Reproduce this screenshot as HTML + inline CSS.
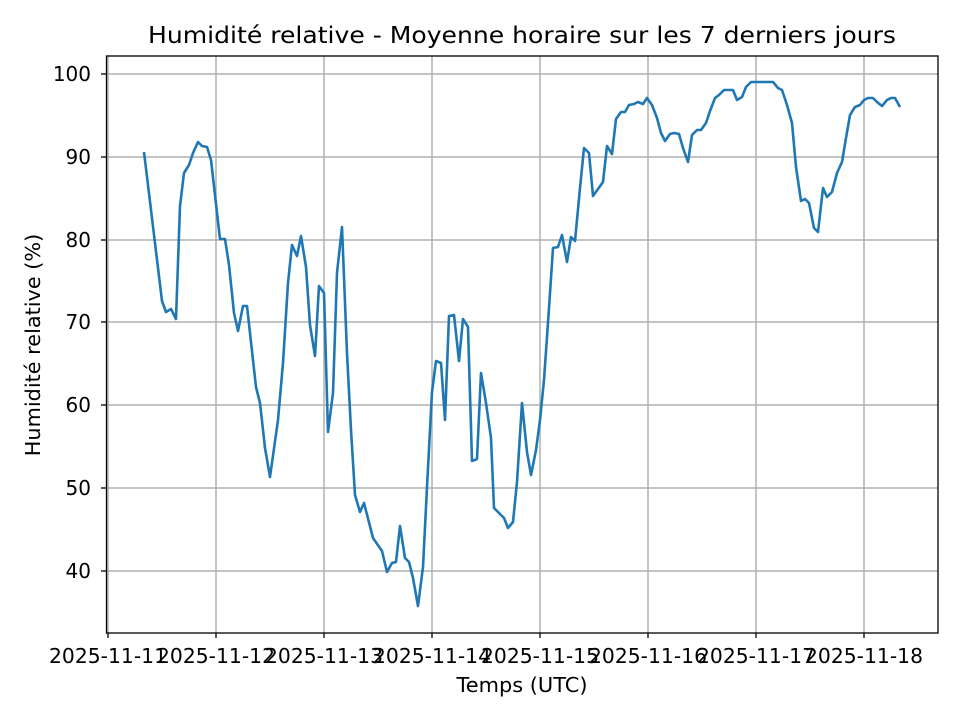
<!DOCTYPE html>
<html><head><meta charset="utf-8"><style>html,body{margin:0;padding:0;background:#fff}svg{display:block}text{font-family:"DejaVu Sans","Liberation Sans",sans-serif;fill:#000}</style></head>
<body>
<svg width="960" height="720" viewBox="0 0 960 720" xmlns="http://www.w3.org/2000/svg">
<rect width="960" height="720" fill="#fff"/>
<g stroke="#b0b0b0" stroke-width="1.5">
<line x1="108" y1="56" x2="108" y2="633"/><line x1="216" y1="56" x2="216" y2="633"/><line x1="324" y1="56" x2="324" y2="633"/><line x1="432" y1="56" x2="432" y2="633"/><line x1="540" y1="56" x2="540" y2="633"/><line x1="648" y1="56" x2="648" y2="633"/><line x1="756" y1="56" x2="756" y2="633"/><line x1="864" y1="56" x2="864" y2="633"/>
<line x1="107" y1="74" x2="938" y2="74"/><line x1="107" y1="157" x2="938" y2="157"/><line x1="107" y1="240" x2="938" y2="240"/><line x1="107" y1="322" x2="938" y2="322"/><line x1="107" y1="405" x2="938" y2="405"/><line x1="107" y1="488" x2="938" y2="488"/><line x1="107" y1="571" x2="938" y2="571"/>
</g>
<polyline fill="none" stroke="#1f77b4" stroke-width="2.6" stroke-linejoin="round" points="144,152 162,301 166,312 171,309 176,319 180,206 184,173 189,165 193,153 198,142 202,146 207,147 211,160 220,239 225,239 229,265 234,313 238,331 243,306 247,306 256,387 260,403 265,448 270,477 278,420 283,363 288,283 292,245 297,256 301,236 306,267 310,325 315,356 319,286 324,293 328,432 333,393 337,273 342,227 347,353 351,430 355,495 360,512 364,503 373,538 382,551 387,572 392,563 396,562 400,526 405,558 409,562 413,578 418,606 423,567 427,487 432,392 436,361 441,363 445,420 449,316 454,315 459,361 463,319 468,327 472,461 477,459 481,373 486,403 491,438 494,508 499,513 504,518 508,528 513,522 517,482 522,403 527,452 531,475 536,450 540,420 544,380 549,308 553,248 558,247 562,235 567,262 571,237 575,241 580,188 584,148 589,153 593,196 598,189 603,182 607,146 612,154 616,119 621,112 625,112 629,105 634,104 638,102 643,104 647,98 652,105 657,118 661,133 665,141 670,134 674,133 679,134 683,148 688,162 692,135 697,130 701,130 706,123 710,111 715,98 719,95 724,90 733,90 737,100 742,97 746,87 751,82 773,82 778,88 782,90 787,105 792,123 796,167 801,201 805,199 809,203 814,228 818,232 823,188 827,197 832,192 837,173 842,162 846,138 850,115 855,107 860,105 864,100 868,98 873,98 877,102 882,106 887,100 891,98 895,98 900,107"/>
<rect x="106.5" y="56" width="831.5" height="577" fill="none" stroke="#000" stroke-width="1.3"/>
<g stroke="#000" stroke-width="1.3">
<line x1="108" y1="633" x2="108" y2="638"/><line x1="216" y1="633" x2="216" y2="638"/><line x1="324" y1="633" x2="324" y2="638"/><line x1="432" y1="633" x2="432" y2="638"/><line x1="540" y1="633" x2="540" y2="638"/><line x1="648" y1="633" x2="648" y2="638"/><line x1="756" y1="633" x2="756" y2="638"/><line x1="864" y1="633" x2="864" y2="638"/>
<line x1="101" y1="74" x2="106" y2="74"/><line x1="101" y1="157" x2="106" y2="157"/><line x1="101" y1="240" x2="106" y2="240"/><line x1="101" y1="322" x2="106" y2="322"/><line x1="101" y1="405" x2="106" y2="405"/><line x1="101" y1="488" x2="106" y2="488"/><line x1="101" y1="571" x2="106" y2="571"/>
</g>
<g font-size="20" text-anchor="end">
<text x="91" y="81">100</text><text x="91" y="164">90</text><text x="91" y="247">80</text><text x="91" y="329">70</text><text x="91" y="412">60</text><text x="91" y="495">50</text><text x="91" y="578">40</text>
</g>
<g font-size="20" text-anchor="middle">
<text x="108" y="663" textLength="118" lengthAdjust="spacingAndGlyphs">2025-11-11</text>
<text x="216" y="663" textLength="118" lengthAdjust="spacingAndGlyphs">2025-11-12</text>
<text x="324" y="663" textLength="118" lengthAdjust="spacingAndGlyphs">2025-11-13</text>
<text x="432" y="663" textLength="118" lengthAdjust="spacingAndGlyphs">2025-11-14</text>
<text x="540" y="663" textLength="118" lengthAdjust="spacingAndGlyphs">2025-11-15</text>
<text x="648" y="663" textLength="118" lengthAdjust="spacingAndGlyphs">2025-11-16</text>
<text x="756" y="663" textLength="118" lengthAdjust="spacingAndGlyphs">2025-11-17</text>
<text x="864" y="663" textLength="118" lengthAdjust="spacingAndGlyphs">2025-11-18</text>
</g>
<text x="522" y="692" font-size="20.8" text-anchor="middle" textLength="131" lengthAdjust="spacingAndGlyphs">Temps (UTC)</text>
<text x="0" y="0" font-size="20.8" text-anchor="middle" transform="translate(40,345) rotate(-90)">Humidité relative (%)</text>
<text x="522" y="43" font-size="23" text-anchor="middle" textLength="748" lengthAdjust="spacingAndGlyphs">Humidité relative - Moyenne horaire sur les 7 derniers jours</text>
</svg>
</body></html>
